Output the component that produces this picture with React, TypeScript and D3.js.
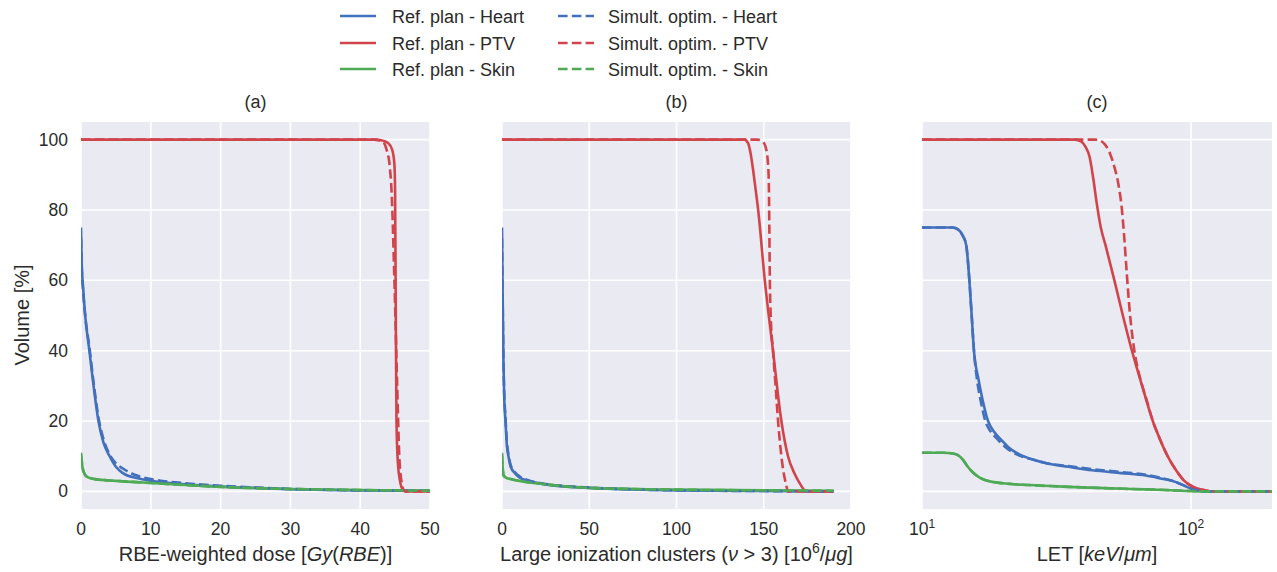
import React from 'react';
import * as d3 from 'd3';

// colours (seaborn-like)
const BLUE = '#4270BC';
const RED = '#D1444B';
const GREEN = '#4EAA55';
const BG = '#EAEAF2';
const TXT = '#2b2b2b';

type Pt = [number, number];

// ---- panel (a): RBE-weighted dose ----
const aRefHeart: Pt[] = [[0, 75], [0.1, 65], [0.3, 58], [0.6, 50], [1.2, 40], [1.8, 30], [2.5, 20], [3.2, 14], [4.1, 10], [5, 7], [6, 5.2], [8, 3.8], [10, 3], [15, 2], [20, 1.4], [25, 1], [30, 0.6], [35, 0.4], [40, 0.3], [45, 0.2], [50, 0.2]];
const aRefPTV: Pt[] = [[0, 100], [42, 100], [43, 99.8], [44, 99], [44.6, 97], [44.9, 93], [45.0, 85], [45.1, 50], [45.2, 20], [45.4, 8], [45.7, 3], [46.1, 0.5], [46.5, 0], [50, 0]];
const aRefSkin: Pt[] = [[0, 11], [0.2, 7], [0.5, 5], [1, 4], [2, 3.5], [5, 3], [10, 2.4], [15, 1.8], [20, 1.3], [30, 0.7], [40, 0.4], [50, 0.2]];
const aSimHeart: Pt[] = [[0, 72], [0.1, 64], [0.3, 57], [0.6, 50], [1.2, 41], [1.8, 31], [2.5, 21], [3.2, 15], [4.1, 10.5], [5, 8], [6, 6.5], [8, 4.5], [10, 3.5], [15, 2.3], [20, 1.6], [25, 1.1], [30, 0.7], [40, 0.3], [50, 0.2]];
const aSimPTV: Pt[] = [[0, 100], [42, 100], [43.2, 99.5], [43.8, 97], [44.2, 93], [44.5, 85], [44.9, 60], [45.3, 30], [45.6, 10], [45.9, 3], [46.2, 0.5], [46.5, 0], [50, 0]];
const aSimSkin: Pt[] = [[0, 10.5], [0.2, 7], [0.5, 5], [1, 4], [2, 3.5], [5, 3], [10, 2.4], [15, 1.8], [20, 1.3], [30, 0.7], [40, 0.4], [50, 0.2]];

// ---- panel (b): large ionization clusters ----
const bRefHeart: Pt[] = [[0, 75], [0.2, 65], [0.5, 50], [0.8, 38], [1.2, 28], [2, 20], [2.8, 13], [3.7, 10], [5, 7], [7.7, 5], [10, 4], [15, 3], [25, 2], [50, 1], [80, 0.5], [100, 0.3], [150, 0.1], [190, 0]];
const bRefPTV: Pt[] = [[0, 100], [139, 100], [141, 99], [142.5, 96], [144, 91], [145.3, 86], [146.8, 80], [150.6, 60], [155.3, 40], [160.1, 20], [163.9, 10], [167.7, 5], [171, 2], [174.4, 0], [190, 0]];
const bRefSkin: Pt[] = [[0, 11], [0.5, 6], [1, 4.5], [2, 4], [5, 3.5], [10, 3], [25, 2], [50, 1], [100, 0.5], [150, 0.3], [190, 0.2]];
const bSimHeart: Pt[] = [[0, 72], [0.2, 64], [0.5, 50], [0.8, 38], [1.2, 29], [2, 21], [2.8, 14], [3.7, 10.5], [5, 7.5], [7.7, 5.3], [10, 4.3], [15, 3.2], [25, 2.1], [50, 1.1], [80, 0.5], [100, 0.3], [150, 0.1], [190, 0]];
const bSimPTV: Pt[] = [[0, 100], [146, 100], [149, 99.6], [151, 98], [152.3, 94], [152.9, 88], [153.2, 75], [153.5, 60], [154, 50], [155.3, 40], [156.8, 30], [158.2, 20], [160.1, 10], [161.5, 5], [162.8, 2], [163.9, 0], [190, 0]];
const bSimSkin: Pt[] = [[0, 10.5], [0.5, 6], [1, 4.5], [2, 4], [5, 3.5], [10, 3], [25, 2], [50, 1], [100, 0.5], [150, 0.3], [190, 0.2]];

// ---- panel (c): LET (log axis) ----
const cRefHeart: Pt[] = [[10, 75], [13, 75], [13.6, 74.5], [14.1, 73], [14.6, 70], [15, 60], [15.3, 50], [15.6, 40], [16.2, 32], [16.8, 26], [17.6, 20], [18.5, 17], [19.5, 15], [21, 12.5], [23, 10.5], [26, 9], [29, 8], [35, 7], [43, 6], [55, 5.2], [68, 4.5], [78, 3.6], [85, 3], [92, 2], [98.6, 1], [106, 0.3], [114, 0], [200, 0]];
const cRefPTV: Pt[] = [[10, 100], [37, 100], [39, 99.5], [40.5, 98], [42, 95], [43.3, 89], [44.6, 82], [46.2, 75], [48.1, 70], [51.9, 60], [55.8, 50], [60.3, 40], [65.8, 30], [72.1, 20], [76.5, 15], [81.9, 10], [88, 6], [94.4, 3], [102, 1.3], [110, 0.5], [120, 0], [200, 0]];
const cRefSkin: Pt[] = [[10, 11], [12, 11], [13, 10.8], [13.6, 10.3], [14.2, 9], [14.8, 7], [15.5, 5.3], [16.5, 3.8], [17.5, 3], [20, 2.3], [25, 1.8], [35, 1.3], [45, 1], [60, 0.7], [80, 0.4], [100, 0.1], [115, 0], [200, 0]];
const cSimHeart: Pt[] = [[10, 75], [13, 75], [13.6, 74.5], [14.1, 73], [14.6, 70], [15, 60], [15.3, 50], [15.6, 40], [16, 32], [16.5, 26], [17.2, 20], [18, 17], [19, 15], [20.5, 12.5], [22.5, 10.5], [26, 9], [29, 8], [35, 7.2], [43, 6.3], [55, 5.5], [68, 4.7], [78, 3.8], [85, 3], [92, 2], [98.6, 1], [106, 0.3], [114, 0], [200, 0]];
const cSimPTV: Pt[] = [[10, 100], [43.8, 100], [46, 99.7], [48, 98.5], [50, 96], [52, 92], [53.8, 87], [55.2, 81], [56.5, 72], [57.7, 62], [59.2, 51], [61.3, 41], [63.8, 34], [66.2, 29.5], [69, 25], [72.1, 20], [76.5, 15], [81.9, 10], [88, 6], [94.4, 3], [102, 1.3], [110, 0.5], [120, 0], [200, 0]];
const cSimSkin: Pt[] = [[10, 11], [12, 11], [13, 10.8], [13.6, 10.3], [14.2, 9], [14.8, 7], [15.5, 5.3], [16.5, 3.8], [17.5, 3], [20, 2.3], [25, 1.8], [35, 1.3], [45, 1], [60, 0.7], [80, 0.4], [100, 0.1], [115, 0], [200, 0]];

const yTicks = [0, 20, 40, 60, 80, 100];
const aTicks = [0, 10, 20, 30, 40, 50];
const bTicks = [0, 50, 100, 150, 200];
const cTicks = [10, 100];

const legendItems = [
  { label: 'Ref. plan - Heart', color: BLUE, dashed: false },
  { label: 'Ref. plan - PTV', color: RED, dashed: false },
  { label: 'Ref. plan - Skin', color: GREEN, dashed: false },
  { label: 'Simult. optim. - Heart', color: BLUE, dashed: true },
  { label: 'Simult. optim. - PTV', color: RED, dashed: true },
  { label: 'Simult. optim. - Skin', color: GREEN, dashed: true },
];

const TOP = 122;
const BOTTOM = 509;
const LW = 2.6;
const DASH = '9.6,4.2';
const FONT = 'Liberation Sans, Arial, sans-serif';

const yScale = d3.scaleLinear().domain([-5, 105]).range([BOTTOM, TOP]);

function Panel({ id, x0, x1, xScale, ticks, tickLabel, title, xLabel, curves, showY }: any) {
  const line = d3
    .line<Pt>()
    .x((d) => xScale(d[0]))
    .y((d) => yScale(d[1]))
    .curve(d3.curveMonotoneX);
  const cx = (x0 + x1) / 2;
  return (
    <g>
      <clipPath id={id}>
        <rect x={x0} y={TOP} width={x1 - x0} height={BOTTOM - TOP} />
      </clipPath>
      <rect x={x0} y={TOP} width={x1 - x0} height={BOTTOM - TOP} fill={BG} />
      {yTicks.map((t) => (
        <line key={'gy' + t} x1={x0} x2={x1} y1={yScale(t)} y2={yScale(t)} stroke="#fff" strokeWidth={1.6} />
      ))}
      {ticks.map((t: number) => (
        <line key={'gx' + t} x1={xScale(t)} x2={xScale(t)} y1={TOP} y2={BOTTOM} stroke="#fff" strokeWidth={1.6} />
      ))}
      <g clipPath={`url(#${id})`}>
        {curves.map((c: any, i: number) => (
          <path
            key={i}
            d={line(c.data) || ''}
            fill="none"
            stroke={c.color}
            strokeWidth={LW}
            strokeDasharray={c.dashed ? DASH : undefined}
          />
        ))}
      </g>
      {ticks.map((t: number) => (
        <text key={'tx' + t} x={xScale(t)} y={535} textAnchor="middle" fontSize={17.5} fill={TXT}>
          {tickLabel(t)}
        </text>
      ))}
      {showY &&
        yTicks.map((t) => (
          <text key={'ty' + t} x={68} y={yScale(t) + 6} textAnchor="end" fontSize={17.5} fill={TXT}>
            {t}
          </text>
        ))}
      <text x={cx} y={108} textAnchor="middle" fontSize={18} fill={TXT}>
        {title}
      </text>
      <text x={cx} y={561} textAnchor="middle" fontSize={20} fill={TXT}>
        {xLabel}
      </text>
    </g>
  );
}

export default function App() {
  const xa = d3.scaleLinear().domain([0, 50]).range([81, 430]);
  const xb = d3.scaleLinear().domain([0, 200]).range([502, 851]);
  const xc = d3.scaleLog().domain([10, 200]).range([922, 1272]);

  const mk = (rh: Pt[], rp: Pt[], rs: Pt[], sh: Pt[], sp: Pt[], ss: Pt[]) => [
    { data: rh, color: BLUE, dashed: false },
    { data: rp, color: RED, dashed: false },
    { data: rs, color: GREEN, dashed: false },
    { data: sh, color: BLUE, dashed: true },
    { data: sp, color: RED, dashed: true },
    { data: ss, color: GREEN, dashed: true },
  ];

  const it = { fontStyle: 'italic' } as const;

  return (
    <svg
      width={1277}
      height={572}
      style={{ position: 'absolute', left: 0, top: 0, background: '#fff' }}
      fontFamily={FONT}
    >
      {/* legend */}
      {legendItems.map((d, i) => {
        const col = Math.floor(i / 3);
        const row = i % 3;
        const y = [16, 43, 69][row];
        const lx = col === 0 ? 340 : 558;
        const tx = col === 0 ? 392 : 608;
        return (
          <g key={d.label}>
            <line x1={lx} x2={lx + 36} y1={y} y2={y} stroke={d.color} strokeWidth={LW} strokeDasharray={d.dashed ? DASH : undefined} />
            <text x={tx} y={y + 6.5} fontSize={18} fill={TXT}>
              {d.label}
            </text>
          </g>
        );
      })}

      <Panel
        id="clipA"
        x0={81}
        x1={430}
        xScale={xa}
        ticks={aTicks}
        tickLabel={(t: number) => String(t)}
        title="(a)"
        xLabel={
          <>
            RBE-weighted dose [<tspan style={it}>Gy</tspan>(<tspan style={it}>RBE</tspan>)]
          </>
        }
        curves={mk(aRefHeart, aRefPTV, aRefSkin, aSimHeart, aSimPTV, aSimSkin)}
        showY
      />
      <Panel
        id="clipB"
        x0={502}
        x1={851}
        xScale={xb}
        ticks={bTicks}
        tickLabel={(t: number) => String(t)}
        title="(b)"
        xLabel={
          <>
            Large ionization clusters (<tspan style={it}>ν</tspan> &gt; 3) [10
            <tspan dy={-8} fontSize={14}>6</tspan>
            <tspan dy={8}>/</tspan>
            <tspan style={it}>μg</tspan>]
          </>
        }
        curves={mk(bRefHeart, bRefPTV, bRefSkin, bSimHeart, bSimPTV, bSimSkin)}
        showY={false}
      />
      <Panel
        id="clipC"
        x0={922}
        x1={1272}
        xScale={xc}
        ticks={cTicks}
        tickLabel={(t: number) => (
          <>
            10<tspan dy={-7} fontSize={12}>{Math.round(Math.log10(t))}</tspan>
          </>
        )}
        title="(c)"
        xLabel={
          <>
            LET [<tspan style={it}>keV</tspan>/<tspan style={it}>μm</tspan>]
          </>
        }
        curves={mk(cRefHeart, cRefPTV, cRefSkin, cSimHeart, cSimPTV, cSimSkin)}
        showY={false}
      />

      <text transform="translate(29,315) rotate(-90)" textAnchor="middle" fontSize={20} fill={TXT}>
        Volume [%]
      </text>
    </svg>
  );
}
